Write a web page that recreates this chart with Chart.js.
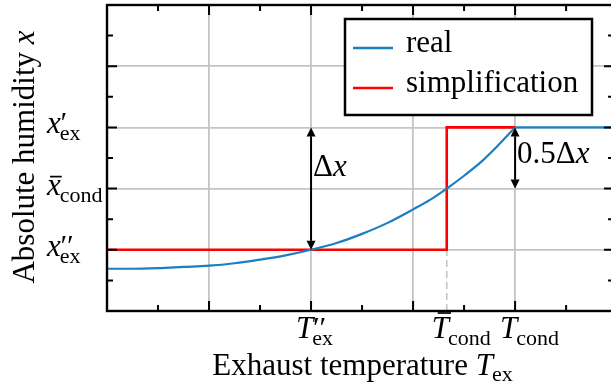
<!DOCTYPE html>
<html>
<head>
<meta charset="utf-8">
<script src="https://cdn.jsdelivr.net/npm/chart.js@4.4.0/dist/chart.umd.min.js"></script>
<style>
  html, body { margin: 0; padding: 0; background: #fff; }
</style>
</head>
<body>
<canvas id="myChart" width="611" height="389"></canvas>
<script>
// real humidity curve (rising part)
const realX = [0.01, 0.25, 0.5, 0.75, 1.0, 1.25, 1.5, 1.75, 2.0, 2.25, 2.5, 2.75, 3.0, 3.17, 3.33, 3.5, 3.67, 3.83, 4.0];
const realY = [0.69, 0.69, 0.70, 0.72, 0.74, 0.78, 0.84, 0.91, 1.0, 1.11, 1.26, 1.44, 1.66, 1.82, 2.0, 2.21, 2.44, 2.70, 3.0];
// real curve after saturation
const satX = [4.0, 4.94];
const satY = [3.0, 3.0];
// step simplification
const simpX = [0.01, 3.33, 3.33, 4.0];
const simpY = [1, 1, 3, 3];
// dashed helper line below the step
const stepGuideX = [3.33, 3.33];
const stepGuideY = [0, 1];

// tick labels ("bar " = overbar, ' = prime, _ = subscript)
const xTickValues = [2, 3.33, 4];
const xTickLabels = ["T''_ex", "bar T_cond", "T_cond"];
const yTickValues = [1, 2, 3];
const yTickLabels = ["x''_ex", "bar x_cond", "x'_ex"];

// difference arrows
const arrowX = [2, 4];
const arrowFrom = [1, 2];
const arrowTo = [3, 3];
const arrowText = ["Δ", "0.5Δ"];
const arrowTextY = [2.2, 2.42];

const legendLabels = ["real", "simplification"];

const blue = "#1a7fc1";
const red = "#ff0000";
const gridCol = "#c4c4c4";
const serif = '"Liberation Serif", "Times New Roman", serif';
const big = "31px ";
const small = "22px ";

const toPts = (xs, ys) => xs.map((x, i) => ({ x: x, y: ys[i] }));

function parseLabel(s) {
  let bar = false;
  if (s.startsWith("bar ")) { bar = true; s = s.slice(4); }
  const parts = s.split("_");
  return { bar: bar, main: parts[0][0], primes: parts[0].length - 1, sub: parts[1] || "" };
}

// symbol with overbar / primes / subscript, left edge at x0
function drawSymbol(ctx, label, x0, base) {
  const lab = parseLabel(label);
  ctx.textAlign = "left";
  ctx.textBaseline = "alphabetic";
  ctx.font = "italic " + big + serif;
  const mainW = ctx.measureText(lab.main).width;
  ctx.fillText(lab.main, x0, base);
  if (lab.bar) {
    const isT = lab.main === "T";
    const h = isT ? 25 : 18;
    ctx.save();
    ctx.lineWidth = 1.7;
    ctx.beginPath();
    ctx.moveTo(x0 + (isT ? 6 : 3), base - h);
    ctx.lineTo(x0 + mainW + (isT ? 2 : 1), base - h);
    ctx.stroke();
    ctx.restore();
  }
  if (lab.primes) {
    ctx.font = "italic 30px " + serif;
    ctx.fillText(lab.primes === 2 ? "′′" : "′", x0 + mainW - 2, base - 1);
  }
  ctx.font = small + serif;
  ctx.fillText(lab.sub, x0 + mainW - 1, base + 7);
}

function drawArrow(ctx, x, y1, y2) {
  const head = 9, half = 4.5;
  ctx.beginPath();
  ctx.moveTo(x, y1 + head);
  ctx.lineTo(x, y2 - head);
  ctx.stroke();
  ctx.beginPath();
  ctx.moveTo(x, y1); ctx.lineTo(x - half, y1 + head); ctx.lineTo(x + half, y1 + head);
  ctx.closePath(); ctx.fill();
  ctx.beginPath();
  ctx.moveTo(x, y2); ctx.lineTo(x - half, y2 - head); ctx.lineTo(x + half, y2 - head);
  ctx.closePath(); ctx.fill();
}

const decor = {
  id: "decor",
  afterDatasetsDraw(chart) {
    const ctx = chart.ctx;
    const xs = chart.scales.x, ys = chart.scales.y;
    const area = chart.chartArea;
    const right = xs.getPixelForValue(4.97);
    ctx.save();
    ctx.strokeStyle = "#000";
    ctx.fillStyle = "#000";

    // arrows and their labels
    ctx.lineWidth = 2;
    arrowX.forEach((v, i) => {
      const px = xs.getPixelForValue(v);
      drawArrow(ctx, px, ys.getPixelForValue(arrowTo[i]), ys.getPixelForValue(arrowFrom[i]));
      const base = ys.getPixelForValue(arrowTextY[i]);
      ctx.textAlign = "left";
      ctx.font = big + serif;
      ctx.fillText(arrowText[i], px + 2, base);
      const w = ctx.measureText(arrowText[i]).width;
      ctx.font = "italic " + big + serif;
      ctx.fillText("x", px + 2 + w, base);
    });

    // frame
    ctx.lineWidth = 2.4;
    ctx.strokeRect(area.left, area.top, right - area.left, area.bottom - area.top);

    // inward ticks
    ctx.lineWidth = 2;
    ctx.beginPath();
    for (let v = 0.5; v < 5; v += 0.5) {
      const len = Number.isInteger(v) ? 10 : 6;
      const px = xs.getPixelForValue(v);
      ctx.moveTo(px, area.bottom); ctx.lineTo(px, area.bottom - len);
      ctx.moveTo(px, area.top); ctx.lineTo(px, area.top + len);
      const py = ys.getPixelForValue(v);
      ctx.moveTo(area.left, py); ctx.lineTo(area.left + len, py);
      ctx.moveTo(right, py); ctx.lineTo(right - len, py);
    }
    ctx.stroke();

    // legend
    const lx = 345, ly = 19, lw = 247, lh = 96;
    ctx.fillStyle = "#fff";
    ctx.fillRect(lx, ly, lw, lh);
    ctx.lineWidth = 2.5;
    ctx.strokeRect(lx, ly, lw, lh);
    legendLabels.forEach((t, i) => {
      const y = 48 + i * 40;
      ctx.strokeStyle = chart.data.datasets[i === 0 ? 0 : 2].borderColor;
      ctx.lineWidth = 2.5;
      ctx.beginPath();
      ctx.moveTo(353, y); ctx.lineTo(393, y);
      ctx.stroke();
      ctx.fillStyle = "#000";
      ctx.font = big + serif;
      ctx.textAlign = "left";
      ctx.fillText(t, 406, y + 4);
    });

    // tick labels
    ctx.fillStyle = "#000";
    ctx.strokeStyle = "#000";
    xTickValues.forEach((v, i) => {
      drawSymbol(ctx, xTickLabels[i], xs.getPixelForValue(v) - 15, 338);
    });
    yTickValues.forEach((v, i) => {
      drawSymbol(ctx, yTickLabels[i], 47, ys.getPixelForValue(v) + 6);
    });

    // axis titles
    ctx.font = big + serif;
    const t1 = "Exhaust temperature ";
    const w1 = ctx.measureText(t1).width;
    ctx.font = "italic " + big + serif;
    const wT = ctx.measureText("T").width;
    ctx.font = small + serif;
    const wS = ctx.measureText("ex").width;
    let x0 = 363 - (w1 + wT + wS) / 2;
    ctx.font = big + serif;
    ctx.fillText(t1, x0, 375);
    ctx.font = "italic " + big + serif;
    ctx.fillText("T", x0 + w1, 375);
    ctx.font = small + serif;
    ctx.fillText("ex", x0 + w1 + wT - 1, 381);

    ctx.save();
    ctx.translate(34, 157);
    ctx.rotate(-Math.PI / 2);
    ctx.font = big + serif;
    const t2 = "Absolute humidity ";
    const w2 = ctx.measureText(t2).width;
    ctx.font = "italic " + big + serif;
    const wx = ctx.measureText("x").width;
    x0 = -(w2 + wx) / 2;
    ctx.font = big + serif;
    ctx.fillText(t2, x0, 0);
    ctx.font = "italic " + big + serif;
    ctx.fillText("x", x0 + w2, 0);
    ctx.restore();

    ctx.restore();
  }
};

const ctx = document.getElementById("myChart").getContext("2d");
const myChart = new Chart(ctx, {
  type: "line",
  data: {
    datasets: [
      { label: "real", data: toPts(realX, realY), borderColor: blue, borderWidth: 2.2,
        cubicInterpolationMode: "monotone", pointRadius: 0 },
      { label: "real (saturated)", data: toPts(satX, satY), borderColor: blue, borderWidth: 2.2,
        tension: 0, pointRadius: 0 },
      { label: "simplification", data: toPts(simpX, simpY), borderColor: red, borderWidth: 2.6,
        tension: 0, pointRadius: 0 },
      { label: "guide", data: toPts(stepGuideX, stepGuideY), borderColor: gridCol, borderWidth: 1.6,
        borderDash: [7, 4], tension: 0, pointRadius: 0 }
    ]
  },
  options: {
    responsive: false,
    devicePixelRatio: 1,
    animation: false,
    layout: { padding: { left: 107, right: 0, top: 5, bottom: 78 } },
    plugins: { legend: { display: false }, tooltip: { enabled: false } },
    scales: {
      x: {
        type: "linear", min: 0, max: 4.94,
        ticks: { display: false, stepSize: 0.5 },
        grid: {
          color: c => (Number.isInteger(c.tick.value) && c.tick.value > 0) ? gridCol : "rgba(0,0,0,0)",
          lineWidth: 1.8, drawTicks: false
        },
        border: { display: false },
        afterFit: s => { s.height = 0; }
      },
      y: {
        type: "linear", min: 0, max: 5,
        ticks: { display: false, stepSize: 0.5 },
        grid: {
          color: c => (Number.isInteger(c.tick.value) && c.tick.value > 0 && c.tick.value < 5) ? gridCol : "rgba(0,0,0,0)",
          lineWidth: 1.8, drawTicks: false
        },
        border: { display: false },
        afterFit: s => { s.width = 0; }
      }
    }
  },
  plugins: [decor]
});
</script>
</body>
</html>
